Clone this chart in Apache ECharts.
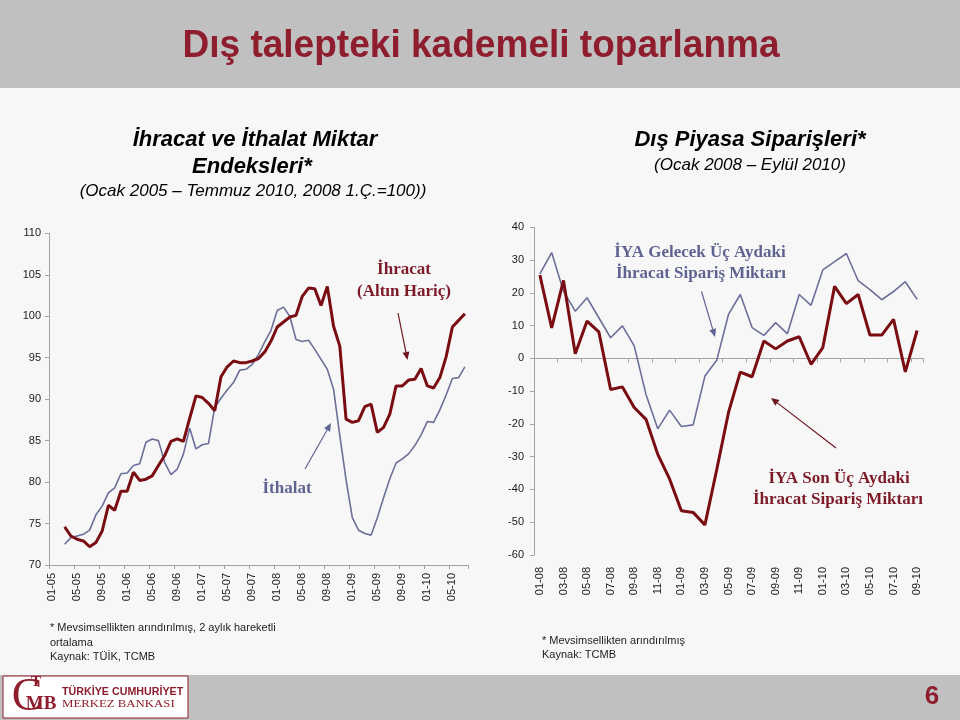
<!DOCTYPE html>
<html>
<head>
<meta charset="utf-8">
<script src="https://cdn.jsdelivr.net/npm/echarts@6/dist/echarts.min.js"></script>
<style>
html,body{margin:0;padding:0;background:#F7F7F7;}
#chart{width:960px;height:720px;}
</style>
</head>
<body>
<div id="chart"></div>
<script>
// ---------- DATA ----------
const monthsLeft = [
 '01-05','02-05','03-05','04-05','05-05','06-05','07-05','08-05','09-05','10-05','11-05','12-05',
 '01-06','02-06','03-06','04-06','05-06','06-06','07-06','08-06','09-06','10-06','11-06','12-06',
 '01-07','02-07','03-07','04-07','05-07','06-07','07-07','08-07','09-07','10-07','11-07','12-07',
 '01-08','02-08','03-08','04-08','05-08','06-08','07-08','08-08','09-08','10-08','11-08','12-08',
 '01-09','02-09','03-09','04-09','05-09','06-09','07-09','08-09','09-09','10-09','11-09','12-09',
 '01-10','02-10','03-10','04-10','05-10','06-10','07-10'
];
// İhracat (Altın Hariç), from 03-05 to 07-10
const ihracat = [null, null,
 74.6, 73.5, 73.1, 72.9, 72.2, 72.7, 74.1, 77.2, 76.6, 78.9,
 78.9, 81.2, 80.2, 80.35, 80.75, 82.0, 83.2, 84.9, 85.2, 84.9,
 87.7, 90.4, 90.2, 89.5, 88.6, 92.7, 93.9, 94.6, 94.4, 94.4,
 94.6, 94.9, 95.7, 97.0, 98.7, 99.3, 99.9, 100.1, 102.4, 103.4,
 103.3, 101.3, 103.6, 98.8, 96.4, 87.6, 87.2, 87.4, 89.1, 89.4,
 86.0, 86.6, 88.2, 91.6, 91.6, 92.3, 92.4, 93.7, 91.6, 91.35,
 92.6, 95.1, 98.7, 99.5, 100.3
];
// İthalat
const ithalat = [null, null,
 72.5, 73.3, 73.5, 73.7, 74.2, 76.05, 77.1, 78.7, 79.3, 81.0,
 81.1, 82.0, 82.2, 84.8, 85.2, 85.0, 82.35, 80.9, 81.55, 83.4,
 86.5, 84.0, 84.5, 84.65, 89.0, 90.1, 91.1, 92.0, 93.5, 93.6,
 94.2, 95.4, 96.9, 98.3, 100.7, 101.1, 100.0, 97.2, 96.95, 97.1,
 96.0, 94.8, 93.6, 91.2, 85.6, 80.3, 75.7, 74.2, 73.8, 73.6,
 75.7, 78.1, 80.4, 82.3, 82.8, 83.4, 84.4, 85.7, 87.3, 87.2,
 88.7, 90.5, 92.5, 92.6, 93.9
];

const monthsRight = [
 '01-08','02-08','03-08','04-08','05-08','06-08','07-08','08-08','09-08','10-08','11-08','12-08',
 '01-09','02-09','03-09','04-09','05-09','06-09','07-09','08-09','09-09','10-09','11-09','12-09',
 '01-10','02-10','03-10','04-10','05-10','06-10','07-10','08-10','09-10'
];
// İYA Gelecek Üç Aydaki İhracat Sipariş Miktarı
const iyaGelecek = [
 25.8, 32.3, 20.5, 14.4, 18.5, 12.4, 6.3, 9.9, 3.8, -11.0, -21.5,
 -15.8, -20.8, -20.3, -5.4, -0.6, 13.4, 19.5, 9.4, 7.0, 10.9, 7.5,
 19.5, 16.2, 27.0, 29.5, 32.0, 23.7, 21.0, 17.9, 20.4, 23.4, 18.0
];
// İYA Son Üç Aydaki İhracat Sipariş Miktarı
const iyaSon = [
 25.4, 9.3, 23.8, 1.4, 11.4, 8.1, -9.5, -8.7, -15.0, -18.6, -29.3,
 -36.8, -46.5, -47.0, -50.8, -34.0, -16.5, -4.2, -5.6, 5.3, 2.9, 5.3,
 6.6, -1.8, 3.3, 22.0, 16.7, 19.5, 7.1, 7.1, 11.9, -4.1, 8.5
];

// ---------- STYLE ----------
const RED = '#7A0D12';
const BLUE = '#6B6F99';
const TXT_RED = '#7C1A28';
const TXT_BLUE = '#5F6392';
const TITLE_RED = '#8E1D2E';
const AXIS_GRAY = '#A3A3A3';
const SANS = '"Liberation Sans", Arial, sans-serif';
const NARROW = '"Liberation Sans Narrow", "Liberation Sans", Arial, sans-serif';
const SERIF = '"Liberation Serif", "Times New Roman", serif';

function arrow(x1, y1, x2, y2, color) {
  const a = Math.atan2(y2 - y1, x2 - x1);
  const L = 8, W = 3.5;
  const bx = x2 - L * Math.cos(a), by = y2 - L * Math.sin(a);
  const px = -Math.sin(a) * W, py = Math.cos(a) * W;
  return [
    {type: 'line', shape: {x1: x1, y1: y1, x2: bx, y2: by}, style: {stroke: color, lineWidth: 1.2}, silent: true},
    {type: 'polygon', shape: {points: [[x2, y2], [bx + px, by + py], [bx - px, by - py]]}, style: {fill: color}, silent: true}
  ];
}
function txt(x, y, text, font, color, align, extra) {
  return Object.assign({
    type: 'text', x: x, y: y, silent: true,
    style: Object.assign({text: text, fill: color, align: align || 'center', verticalAlign: 'middle'}, font)
  }, extra || {});
}

const axisLabelStyle = {color: '#1a1a1a', fontSize: 11, fontFamily: SANS};

const graphics = [
  {type: 'rect', shape: {x: 0, y: 0, width: 960, height: 88}, style: {fill: '#C0C0C0'}, silent: true, z: -1},
  {type: 'rect', shape: {x: 0, y: 675, width: 960, height: 45}, style: {fill: '#C0C0C0'}, silent: true, z: -1},
  txt(481, 46, 'Dış talepteki kademeli toparlanma', {fontSize: 39, fontWeight: 'bold', fontFamily: SANS}, TITLE_RED, 'center', {scaleX: 0.95, originX: 0}),

  txt(255, 140, 'İhracat ve İthalat Miktar', {fontSize: 22, fontWeight: 'bold', fontStyle: 'italic', fontFamily: SANS}, '#000'),
  txt(252, 167, 'Endeksleri*', {fontSize: 22, fontWeight: 'bold', fontStyle: 'italic', fontFamily: SANS}, '#000'),
  txt(253, 191, '(Ocak 2005 – Temmuz 2010, 2008 1.Ç.=100))', {fontSize: 17, fontStyle: 'italic', fontFamily: SANS}, '#000'),
  txt(750, 140, 'Dış Piyasa Siparişleri*', {fontSize: 22, fontWeight: 'bold', fontStyle: 'italic', fontFamily: SANS}, '#000'),
  txt(750, 165, '(Ocak 2008 – Eylül 2010)', {fontSize: 17, fontStyle: 'italic', fontFamily: SANS}, '#000'),

  txt(404, 270, 'İhracat', {fontSize: 17, fontWeight: 'bold', fontFamily: SERIF}, TXT_RED),
  txt(404, 291.5, '(Altın Hariç)', {fontSize: 17, fontWeight: 'bold', fontFamily: SERIF}, TXT_RED),
  txt(287, 489, 'İthalat', {fontSize: 17, fontWeight: 'bold', fontFamily: SERIF}, TXT_BLUE),
  txt(700, 253, 'İYA Gelecek Üç Aydaki', {fontSize: 17, fontWeight: 'bold', fontFamily: SERIF}, TXT_BLUE),
  txt(701, 274, 'İhracat Sipariş Miktarı', {fontSize: 17, fontWeight: 'bold', fontFamily: SERIF}, TXT_BLUE),
  txt(839, 478.5, 'İYA Son Üç Aydaki', {fontSize: 17, fontWeight: 'bold', fontFamily: SERIF}, TXT_RED),
  txt(838, 499.5, 'İhracat Sipariş Miktarı', {fontSize: 17, fontWeight: 'bold', fontFamily: SERIF}, TXT_RED),
  ...arrow(398, 313, 407.5, 360, '#6E1620'),
  ...arrow(305, 469, 331, 423, TXT_BLUE),
  ...arrow(701.5, 291.5, 715, 337, TXT_BLUE),
  ...arrow(836, 448, 771, 398, '#6E1620'),

  txt(50, 628, '* Mevsimsellikten arındırılmış, 2 aylık hareketli', {fontSize: 11, fontFamily: NARROW}, '#222', 'left'),
  txt(50, 643, 'ortalama', {fontSize: 11, fontFamily: NARROW}, '#222', 'left'),
  txt(50, 657, 'Kaynak: TÜİK, TCMB', {fontSize: 11, fontFamily: NARROW}, '#222', 'left'),
  txt(542, 641, '* Mevsimsellikten arındırılmış', {fontSize: 11, fontFamily: NARROW}, '#222', 'left'),
  txt(542, 655, 'Kaynak: TCMB', {fontSize: 11, fontFamily: NARROW}, '#222', 'left'),

  {type: 'rect', shape: {x: 3, y: 676, width: 185, height: 42}, style: {fill: '#FFFFFF', stroke: '#8E1D2E', lineWidth: 1}, silent: true},
  txt(27, 698, 'C', {fontSize: 46, fontFamily: SERIF}, TITLE_RED),
  txt(36, 682, 'T', {fontSize: 15, fontWeight: 'bold', fontFamily: SERIF}, TITLE_RED),
  txt(41, 704, 'MB', {fontSize: 19, fontWeight: 'bold', fontFamily: SERIF}, TITLE_RED),
  txt(62, 692.5, 'TÜRKİYE CUMHURİYET', {fontSize: 10, fontWeight: 'bold', fontFamily: SANS}, TITLE_RED, 'left', {scaleX: 1.07, originX: 0}),
  txt(62, 704, 'MERKEZ BANKASI', {fontSize: 10, fontFamily: SERIF}, TITLE_RED, 'left', {scaleX: 1.28, originX: 0}),
  txt(932, 697, '6', {fontSize: 26, fontWeight: 'bold', fontFamily: SANS}, TITLE_RED)
];

const chart = echarts.init(document.getElementById('chart'), null, {renderer: 'canvas'});
chart.setOption({
  backgroundColor: '#F7F7F7',
  animation: false,
  grid: [
    {left: 49, top: 233.3, width: 419, height: 331.7, containLabel: false},
    {left: 534, top: 227.3, width: 389, height: 327.7, containLabel: false}
  ],
  xAxis: [
    {
      type: 'category', gridIndex: 0, data: monthsLeft, boundaryGap: true,
      axisLine: {show: true, onZero: false, lineStyle: {color: AXIS_GRAY}},
      axisTick: {show: true, interval: 3, length: 4, lineStyle: {color: AXIS_GRAY}},
      axisLabel: Object.assign({interval: 3, rotate: 90, margin: 8}, axisLabelStyle),
      splitLine: {show: false}
    },
    {
      type: 'category', gridIndex: 1, data: monthsRight, boundaryGap: true, position: 'bottom',
      axisLine: {show: false, onZero: false},
      axisTick: {show: false},
      axisLabel: Object.assign({interval: 1, rotate: 90, margin: 12}, axisLabelStyle),
      splitLine: {show: false}
    },
    {
      type: 'category', gridIndex: 1, data: monthsRight, boundaryGap: true, position: 'top',
      axisLine: {show: true, onZero: true, onZeroAxisIndex: 1, lineStyle: {color: AXIS_GRAY}},
      axisTick: {show: true, interval: 1, inside: true, length: 4, lineStyle: {color: AXIS_GRAY}},
      axisLabel: {show: false},
      splitLine: {show: false}
    }
  ],
  yAxis: [
    {
      type: 'value', gridIndex: 0, min: 70, max: 110, interval: 5,
      axisLine: {show: true, lineStyle: {color: AXIS_GRAY}},
      axisTick: {show: true, length: 4, lineStyle: {color: AXIS_GRAY}},
      axisLabel: Object.assign({margin: 8}, axisLabelStyle),
      splitLine: {show: false}
    },
    {
      type: 'value', gridIndex: 1, min: -60, max: 40, interval: 10,
      axisLine: {show: true, lineStyle: {color: AXIS_GRAY}},
      axisTick: {show: true, length: 4, lineStyle: {color: AXIS_GRAY}},
      axisLabel: Object.assign({margin: 10}, axisLabelStyle),
      splitLine: {show: false}
    }
  ],
  series: [
    {name: 'İthalat', type: 'line', xAxisIndex: 0, yAxisIndex: 0, data: ithalat, showSymbol: false, symbol: 'none',
     lineStyle: {color: BLUE, width: 1.6}, itemStyle: {color: BLUE}, z: 2},
    {name: 'İhracat (Altın Hariç)', type: 'line', xAxisIndex: 0, yAxisIndex: 0, data: ihracat, showSymbol: false, symbol: 'none',
     lineStyle: {color: RED, width: 3}, itemStyle: {color: RED}, z: 3},
    {name: 'İYA Gelecek Üç Aydaki İhracat Sipariş Miktarı', type: 'line', xAxisIndex: 1, yAxisIndex: 1, data: iyaGelecek, showSymbol: false, symbol: 'none',
     lineStyle: {color: BLUE, width: 1.6}, itemStyle: {color: BLUE}, z: 2},
    {name: 'İYA Son Üç Aydaki İhracat Sipariş Miktarı', type: 'line', xAxisIndex: 1, yAxisIndex: 1, data: iyaSon, showSymbol: false, symbol: 'none',
     lineStyle: {color: RED, width: 3}, itemStyle: {color: RED}, z: 3}
  ],
  graphic: graphics
});
</script>
</body>
</html>
